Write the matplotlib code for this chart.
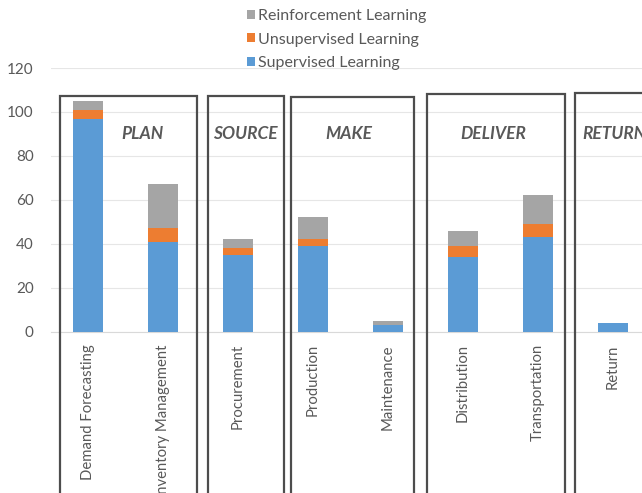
import matplotlib.pyplot as plt
from matplotlib.patches import Rectangle

plt.rcParams['font.family'] = ['Lato', 'DejaVu Sans']

categories = ["Demand Forecasting", "Inventory Management", "Procurement",
              "Production", "Maintenance", "Distribution", "Transportation", "Return"]
supervised    = [97, 41, 35, 39, 3, 34, 43, 4]
unsupervised  = [4, 6, 3, 3, 0, 5, 6, 0]
reinforcement = [4, 20, 4, 10, 2, 7, 13, 0]

groups = ["PLAN", "SOURCE", "MAKE", "DELIVER", "RETURN"]
# (left, right, top) of each group box in data units
group_boxes = [(-0.38, 1.45, 107.3), (1.60, 2.61, 107.3), (2.71, 4.34, 107.0),
               (4.52, 6.36, 108.2), (6.49, 8.5, 108.5)]
group_label_x = [0.72, 2.10, 3.48, 5.41, 6.59]

blue, orange, grey = "#5B9BD5", "#ED7D31", "#A5A5A5"
text_col = "#595959"

fig = plt.figure(figsize=(6.42, 4.93), dpi=100)
ax = fig.add_axes([50.5/642, 1 - 331.7/493, 600/642, (331.7 - 68)/493])

x = range(len(categories))
bottom2 = [a + b for a, b in zip(supervised, unsupervised)]
b1 = ax.bar(x, supervised, 0.4, color=blue, label="Supervised Learning", zorder=3)
b2 = ax.bar(x, unsupervised, 0.4, bottom=supervised, color=orange, label="Unsupervised Learning", zorder=3)
b3 = ax.bar(x, reinforcement, 0.4, bottom=bottom2, color=grey, label="Reinforcement Learning", zorder=3)

ax.set_xlim(-0.5, 7.5)
ax.set_ylim(0, 120)
ax.set_yticks(range(0, 121, 20))
ax.set_xticks(list(x))
ax.set_xticklabels(categories, rotation=90, va="top")
ax.tick_params(axis="y", length=0, pad=12, labelsize=11, labelcolor=text_col)
ax.tick_params(axis="x", length=0, pad=9, labelsize=10.7, labelcolor=text_col)
ax.grid(axis="y", color="#E6E6E6", linewidth=0.8, zorder=0)
for s in ["top", "right", "left"]:
    ax.spines[s].set_visible(False)
ax.spines["bottom"].set_color("#D9D9D9")
ax.spines["bottom"].set_zorder(2)

for (l, r, t), name, lx in zip(group_boxes, groups, group_label_x):
    ax.add_patch(Rectangle((l, -200), r - l, t + 200, fill=False, edgecolor="#4D4D4D",
                           linewidth=1.6, clip_on=False, zorder=4))
    ha = "left" if name == "RETURN" else "center"
    ax.text(lx, 90.0, name, ha=ha, va="center", fontsize=12.5, fontweight="bold",
            fontstyle="italic", color=text_col)

fig.legend([b3, b2, b1], ["Reinforcement Learning", "Unsupervised Learning", "Supervised Learning"],
           loc="upper left", bbox_to_anchor=(239/642, 1 - 1/493), frameon=False,
           fontsize=11.5, handlelength=0.5, handleheight=0.5, handletextpad=0.2,
           labelspacing=0.6, borderpad=0, labelcolor=text_col)

fig.savefig("out.png", dpi=100)
